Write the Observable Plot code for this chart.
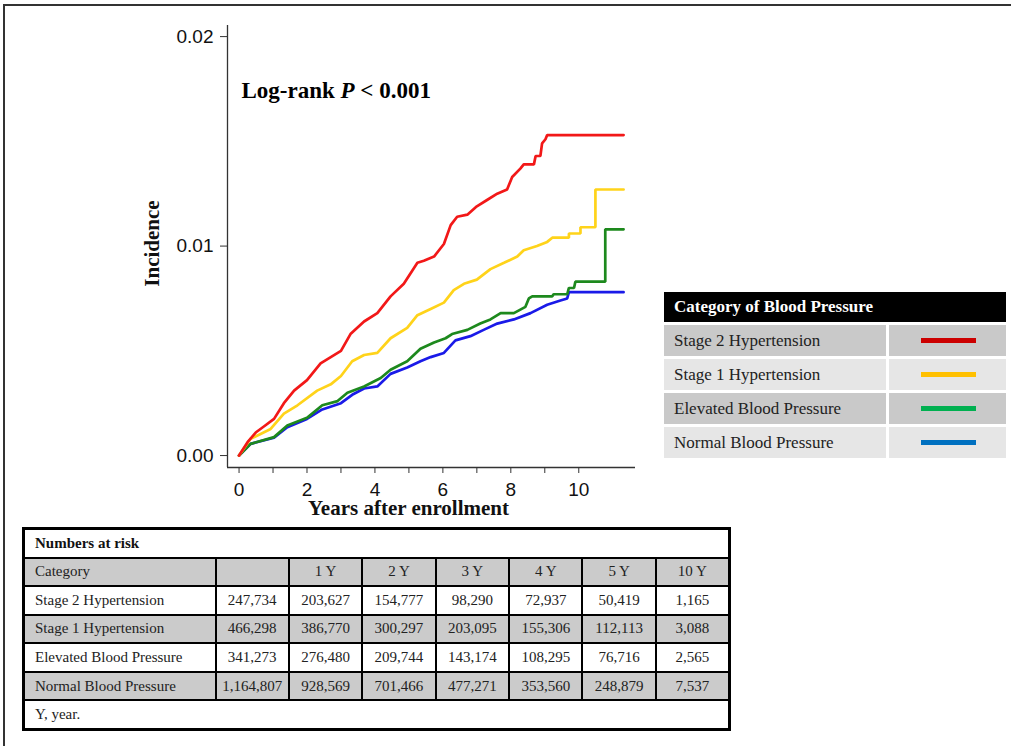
<!DOCTYPE html>
<html>
<head>
<meta charset="utf-8">
<script src="https://cdn.jsdelivr.net/npm/d3@7"></script>
<script src="https://cdn.jsdelivr.net/npm/@observablehq/plot@0.6"></script>
<style>
  body { margin: 0; background: #fff; }
  #page { position: relative; width: 1011px; height: 746px; overflow: hidden; background: #fff; }
  #chart { position: absolute; left: 0; top: 0; }
  #frameTop { position: absolute; left: 3px; top: 4px; width: 1008px; height: 2px; background: #333; z-index: 5; }
  #frameLeft { position: absolute; left: 3px; top: 4px; width: 2px; height: 742px; background: #333; z-index: 5; }
  #legend { position: absolute; left: 664px; top: 292px; width: 342px; font-family: "Liberation Serif", "Times New Roman", serif; }
  #legend .hdr { height: 30px; line-height: 30px; background: #000; color: #fff; font-weight: bold; font-size: 17px; padding-left: 10px; }
  #legend .row { display: flex; margin-top: 3px; height: 31px; }
  #legend .c1 { width: 222px; padding-left: 10px; box-sizing: border-box; line-height: 31px; font-size: 17px; color: #222; }
  #legend .c2 { width: 117px; margin-left: 3px; position: relative; }
  #legend .sw { position: absolute; left: 32px; top: 13px; width: 55px; height: 5px; }
  #risk { position: absolute; left: 22px; top: 527px; width: 706px; height: 204px; border-collapse: collapse; border: 3px solid #000;
          font-family: "Liberation Serif", "Times New Roman", serif; font-size: 15px; color: #222; table-layout: fixed; }
  #risk td { border: 2.5px solid #000; height: 26px; padding: 0; text-align: center; }
  #risk td.cat { text-align: left; padding-left: 10px; }
  #risk tr.g td { background: #cbcbcb; }
  #risk tr.title td { font-weight: bold; text-align: left; padding-left: 10px; color: #111; }
  #risk tr.foot td { text-align: left; padding-left: 10px; }
</style>
</head>
<body>
<div id="page">
  <div id="chart"></div>
  <div id="legend"></div>
  <table id="risk"></table>
  <div id="frameTop"></div>
  <div id="frameLeft"></div>
</div>
<script>
// ---------- data ----------
const categories = ["Stage 2 Hypertension", "Stage 1 Hypertension", "Elevated Blood Pressure", "Normal Blood Pressure"];
const lineColors = ["#f21818", "#ffd31a", "#1d891d", "#1a1ae8"];
const legendColors = ["#cc0000", "#ffc000", "#00b050", "#0070c0"];

const stage2X = [0, 0.25, 0.49, 0.74, 1.03, 1.32, 1.62, 2.0, 2.4, 2.7, 3.0, 3.28, 3.68, 4.07, 4.46, 4.85, 5.25, 5.44, 5.74, 6.03, 6.23, 6.42, 6.72, 7.0, 7.3, 7.6, 7.89, 8.04, 8.28, 8.38, 8.68, 8.73, 8.87, 8.92, 9.02, 9.07, 11.32];
const stage2Y = [0, 0.00064, 0.0011, 0.0014, 0.00175, 0.0025, 0.0031, 0.0036, 0.0044, 0.0047, 0.005, 0.0058, 0.0064, 0.0068, 0.0076, 0.0082, 0.0092, 0.0093, 0.0095, 0.0101, 0.011, 0.0114, 0.0115, 0.0119, 0.0122, 0.0125, 0.0127, 0.0133, 0.0137, 0.0139, 0.0139, 0.0143, 0.0143, 0.0149, 0.0151, 0.0153, 0.0153];

const stage1X = [0, 0.34, 0.93, 1.32, 1.72, 2.3, 2.7, 3.0, 3.33, 3.68, 4.07, 4.46, 4.95, 5.25, 5.64, 6.03, 6.32, 6.62, 7.0, 7.4, 7.8, 8.19, 8.38, 8.77, 9.07, 9.22, 9.71, 9.71, 10.05, 10.05, 10.49, 10.49, 11.32];
const stage1Y = [0, 0.0008, 0.00127, 0.002, 0.0024, 0.0031, 0.0034, 0.0038, 0.0045, 0.0048, 0.0049, 0.0056, 0.0061, 0.0067, 0.007, 0.0073, 0.0079, 0.0082, 0.0084, 0.0089, 0.0092, 0.0095, 0.0098, 0.01, 0.0102, 0.0104, 0.0104, 0.0106, 0.0106, 0.0109, 0.0109, 0.0127, 0.0127];

const elevatedX = [0, 0.34, 1.03, 1.42, 2.0, 2.45, 2.9, 3.19, 3.68, 4.17, 4.46, 4.95, 5.34, 5.74, 6.08, 6.27, 6.72, 7.1, 7.4, 7.7, 8.09, 8.43, 8.53, 8.63, 9.22, 9.26, 9.66, 9.71, 9.86, 9.9, 10.78, 10.78, 11.32];
const elevatedY = [0, 0.00056, 0.00088, 0.00143, 0.0018, 0.0024, 0.0026, 0.003, 0.0033, 0.0037, 0.0041, 0.0045, 0.0051, 0.0054, 0.0056, 0.0058, 0.006, 0.0063, 0.0065, 0.0068, 0.0068, 0.0071, 0.0075, 0.0076, 0.0076, 0.0077, 0.0077, 0.008, 0.008, 0.0083, 0.0083, 0.0108, 0.0108];

const normalX = [0, 0.34, 1.03, 1.42, 2.0, 2.45, 3.0, 3.33, 3.68, 4.07, 4.46, 4.95, 5.34, 5.64, 6.03, 6.37, 6.81, 7.2, 7.6, 8.09, 8.58, 9.07, 9.46, 9.66, 9.71, 11.32];
const normalY = [0, 0.00056, 0.00085, 0.00135, 0.00175, 0.0022, 0.0025, 0.0029, 0.0032, 0.0033, 0.0039, 0.0042, 0.0045, 0.0047, 0.0049, 0.0055, 0.0057, 0.006, 0.0063, 0.0065, 0.0068, 0.0072, 0.0074, 0.0075, 0.0078, 0.0078];

const xTicks = [0, 1, 2, 3, 4, 5, 6, 7, 8, 9, 10];
const yTicks = [0, 0.01, 0.02];
const xDomain = [-0.34, 11.67];
const yDomain = [-0.00057, 0.02053];

const xLabel = "Years after enrollment";
const yLabel = "Incidence";
const logrankText = "Log-rank P < 0.001";

const riskTitle = "Numbers at risk";
const riskHeader = ["Category", "", "1 Y", "2 Y", "3 Y", "4 Y", "5 Y", "10 Y"];
const riskStage2 = ["247,734", "203,627", "154,777", "98,290", "72,937", "50,419", "1,165"];
const riskStage1 = ["466,298", "386,770", "300,297", "203,095", "155,306", "112,113", "3,088"];
const riskElevated = ["341,273", "276,480", "209,744", "143,174", "108,295", "76,716", "2,565"];
const riskNormal = ["1,164,807", "928,569", "701,466", "477,271", "353,560", "248,879", "7,537"];
const riskFooter = "Y, year.";
const legendTitle = "Category of Blood Pressure";

// ---------- build ----------
const seriesList = [
  [categories[3], normalX, normalY],
  [categories[2], elevatedX, elevatedY],
  [categories[1], stage1X, stage1Y],
  [categories[0], stage2X, stage2Y]
];
const data = seriesList.flatMap(([cat, xs, ys]) => xs.map((x, i) => ({cat, x, y: ys[i]})));

const serif = "Liberation Serif, Times New Roman, serif";

const chart = Plot.plot({
  width: 660,
  height: 525,
  marginLeft: 227,
  marginRight: 25,
  marginTop: 25,
  marginBottom: 58,
  x: {domain: xDomain},
  y: {domain: yDomain},
  color: {domain: categories, range: lineColors},
  style: {fontFamily: "Liberation Sans, Arial, sans-serif", fontSize: "19px", color: "#111", background: "transparent", overflow: "visible"},
  marks: [
    Plot.axisY({ticks: yTicks, tickFormat: d3.format(".2f"), tickSize: 7, tickPadding: 7, label: null, stroke: "#333", fontSize: 19}),
    Plot.axisX({ticks: xTicks, tickFormat: d => (d % 2 === 0 ? String(d) : ""), tickSize: 6, tickPadding: 9, label: null, stroke: "#333", fontSize: 19}),
    Plot.ruleX([xDomain[0]], {stroke: "#333", strokeWidth: 1.3}),
    Plot.ruleY([yDomain[0]], {stroke: "#333", strokeWidth: 1.3}),
    Plot.line(data, {x: "x", y: "y", z: "cat", stroke: "cat", strokeWidth: 2.7, strokeLinejoin: "miter"}),
    Plot.text([logrankText], {frameAnchor: "top-left", text: d => d, dx: 14, dy: 56, fontFamily: serif, fontWeight: "bold", fontSize: 23, fill: "#000", lineAnchor: "top", textAnchor: "start"}),
    Plot.text([xLabel], {frameAnchor: "bottom", text: d => d, dx: -23, dy: 47, fontFamily: serif, fontWeight: "bold", fontSize: 21, fill: "#111"}),
    Plot.text([yLabel], {frameAnchor: "left", text: d => d, rotate: -90, textAnchor: "middle", lineAnchor: "middle", dx: -75, dy: -3, fontFamily: serif, fontWeight: "bold", fontSize: 21, fill: "#111"})
  ]
});
document.getElementById("chart").appendChild(chart);

// italicise the P in the log-rank annotation
d3.select(chart).selectAll("text").filter(function() { return this.textContent === logrankText; }).each(function() {
  const t = d3.select(this);
  t.text(null);
  t.append("tspan").text("Log-rank ");
  t.append("tspan").attr("font-style", "italic").text("P");
  t.append("tspan").text(" < 0.001");
});

// legend
const legend = d3.select("#legend");
legend.append("div").attr("class", "hdr").text(legendTitle);
categories.forEach((c, i) => {
  const bg = i % 2 === 0 ? "#c9c9c9" : "#e6e6e6";
  const row = legend.append("div").attr("class", "row");
  row.append("div").attr("class", "c1").style("background", bg).text(c);
  row.append("div").attr("class", "c2").style("background", bg)
    .append("div").attr("class", "sw").style("background", legendColors[i]);
});

// numbers at risk table
const tbl = d3.select("#risk");
const cg = tbl.append("colgroup");
cg.append("col").style("width", "192px");
for (let i = 0; i < 7; i++) cg.append("col").style("width", "73.4px");
const tr0 = tbl.append("tr").attr("class", "title");
tr0.append("td").attr("colspan", 8).text(riskTitle);
const trh = tbl.append("tr").attr("class", "g");
riskHeader.forEach((h, i) => trh.append("td").attr("class", i === 0 ? "cat" : null).text(h));
const riskRows = [riskStage2, riskStage1, riskElevated, riskNormal];
riskRows.forEach((vals, r) => {
  const tr = tbl.append("tr").attr("class", r % 2 === 1 ? "g" : null);
  tr.append("td").attr("class", "cat").text(categories[r]);
  vals.forEach(v => tr.append("td").text(v));
});
const trf = tbl.append("tr").attr("class", "foot");
trf.append("td").attr("colspan", 8).text(riskFooter);
</script>
</body>
</html>
